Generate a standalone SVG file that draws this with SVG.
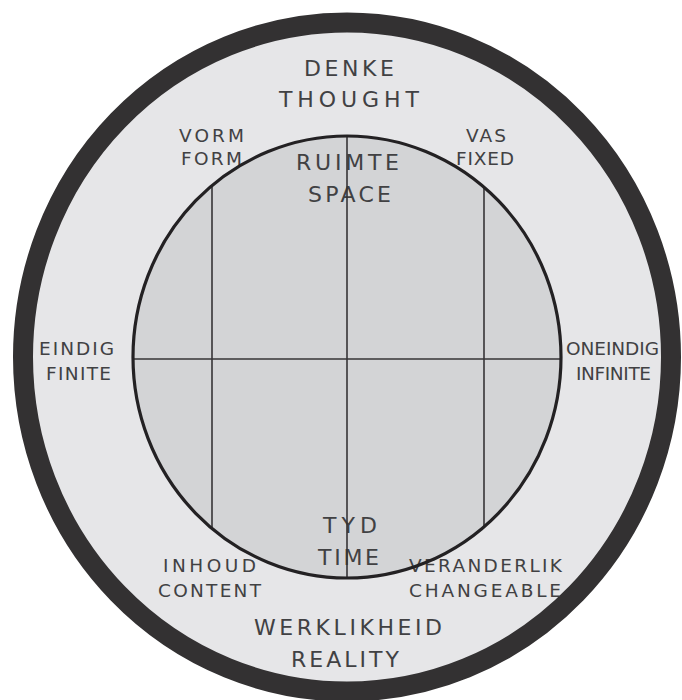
<svg xmlns="http://www.w3.org/2000/svg" width="682" height="700" viewBox="0 0 682 700">
<style>
.lbl{font-family:"DejaVu Sans","Open Sans",sans-serif;fill:#414143;text-anchor:middle}
.big{font-size:22px}
.sm{font-size:18.5px}
.grid{stroke:#363436;stroke-width:1.6;fill:none}
</style>
<rect width="682" height="700" fill="#ffffff"/>
<g id="outer-ring">
<ellipse cx="347" cy="357" rx="324" ry="334.5" fill="#e6e6e8" stroke="#333132" stroke-width="20"/>
</g>
<g id="inner-circle">
<ellipse cx="347" cy="357" rx="214" ry="221" fill="#d3d4d6"/>
</g>
<g id="denke"><text class="lbl big"><tspan x="349" y="76" textLength="90" lengthAdjust="spacing">DENKE</tspan><tspan x="349" y="107" textLength="140" lengthAdjust="spacing">THOUGHT</tspan></text></g>
<g id="ruimte"><text class="lbl big"><tspan x="347.5" y="170" textLength="103" lengthAdjust="spacing">RUIMTE</tspan><tspan x="349.5" y="202" textLength="83" lengthAdjust="spacing">SPACE</tspan></text></g>
<g id="vorm"><text class="lbl sm"><tspan x="211.5" y="142" textLength="65" lengthAdjust="spacing">VORM</tspan><tspan x="211.5" y="165" textLength="61" lengthAdjust="spacing">FORM</tspan></text></g>
<g id="vas"><text class="lbl sm"><tspan x="486" y="142" textLength="40" lengthAdjust="spacing">VAS</tspan><tspan x="485" y="165" textLength="58" lengthAdjust="spacing">FIXED</tspan></text></g>
<g id="eindig"><text class="lbl sm"><tspan x="76.5" y="355" textLength="75" lengthAdjust="spacing">EINDIG</tspan><tspan x="78.5" y="380" textLength="65" lengthAdjust="spacing">FINITE</tspan></text></g>
<g id="oneindig"><text class="lbl sm"><tspan x="612.5" y="355" textLength="93" lengthAdjust="spacing">ONEINDIG</tspan><tspan x="613.5" y="380" textLength="75" lengthAdjust="spacing">INFINITE</tspan></text></g>
<g id="tyd"><text class="lbl big"><tspan x="350" y="533" textLength="54" lengthAdjust="spacing">TYD</tspan><tspan x="348.5" y="565" textLength="61" lengthAdjust="spacing">TIME</tspan></text></g>
<g id="inhoud"><text class="lbl sm"><tspan x="209.5" y="572" textLength="93" lengthAdjust="spacing">INHOUD</tspan><tspan x="209.5" y="597" textLength="103" lengthAdjust="spacing">CONTENT</tspan></text></g>
<g id="veranderlik"><text class="lbl sm"><tspan x="485.5" y="572" textLength="153" lengthAdjust="spacing">VERANDERLIK</tspan><tspan x="485" y="597" textLength="152" lengthAdjust="spacing">CHANGEABLE</tspan></text></g>
<g id="werklikheid"><text class="lbl big"><tspan x="348" y="635" textLength="188" lengthAdjust="spacing">WERKLIKHEID</tspan><tspan x="345" y="667" textLength="108" lengthAdjust="spacing">REALITY</tspan></text></g>
<g id="connectors">
<line class="grid" x1="347" y1="136" x2="347" y2="578"/>
<line class="grid" x1="133" y1="359" x2="561" y2="359"/>
<line class="grid" x1="212" y1="186" x2="212" y2="528"/>
<line class="grid" x1="484" y1="187" x2="484" y2="527"/>
<ellipse cx="347" cy="357" rx="214" ry="221" fill="none" stroke="#232123" stroke-width="3.2"/>
</g>
</svg>
